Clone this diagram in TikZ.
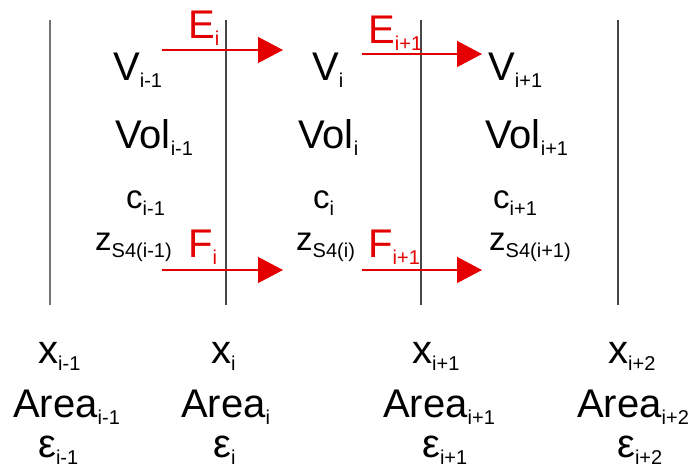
\documentclass[tikz,border=0pt]{standalone}
\usepackage{fontspec}
\setmainfont{Liberation Sans}
\usetikzlibrary{arrows.meta}
\definecolor{arrred}{RGB}{228,0,0}
\definecolor{linegray}{RGB}{70,70,70}
\newcommand{\mysub}[1]{\raisebox{-7pt}{\fontsize{20}{20}\selectfont #1}}
\begin{document}
\begin{tikzpicture}[x=1pt,y=-1pt,
  big/.style={anchor=base west,inner sep=0pt,font=\fontsize{40}{48}\selectfont},
  mid/.style={anchor=base west,inner sep=0pt,font=\fontsize{33}{38}\selectfont},
  redlab/.style={big,text=arrred},
  flux/.style={draw=arrred,line width=1.3pt,-{Triangle[length=25pt,width=26pt]}},
  wall/.style={draw=linegray,line width=1.3pt}]
\useasboundingbox (0,0) rectangle (690,471);
% walls
\coordinate (w1t) at (50,20);  \coordinate (w1b) at (50,305);
\coordinate (w2t) at (226,20); \coordinate (w2b) at (226,305);
\coordinate (w3t) at (421,20); \coordinate (w3b) at (421,305);
\coordinate (w4t) at (618,20); \coordinate (w4b) at (618,305);
\draw[wall,draw=black!55] (w1t) -- (w1b);
\draw[wall] (w2t) -- (w2b);
\draw[wall] (w3t) -- (w3b);
\draw[wall] (w4t) -- (w4b);
% flux arrows
\coordinate (e1s) at (162,50); \coordinate (e1t) at (283,50);
\coordinate (e2s) at (362,54); \coordinate (e2t) at (482,54);
\coordinate (f1s) at (162,270); \coordinate (f1t) at (283,270);
\coordinate (f2s) at (362,270); \coordinate (f2t) at (482,270);
\draw[flux] (e1s) -- (e1t);
\draw[flux] (e2s) -- (e2t);
\draw[flux] (f1s) -- (f1t);
\draw[flux] (f2s) -- (f2t);
% red labels
\node[redlab] (E1) at (188,38) {E\mysub{i}};
\node[redlab] (E2) at (368,43) {E\mysub{i+1}};
\node[redlab] (F1) at (188,257) {F\mysub{i}};
\node[redlab] (F2) at (368,257) {F\mysub{i+1}};
% cell contents
\node[big] (V0) at (113,80) {V\mysub{i-1}};
\node[big] (V1) at (312,80) {V\mysub{i}};
\node[big] (V2) at (488,80) {V\mysub{i+1}};
\node[big] (Vol0) at (115,148) {Vol\mysub{i-1}};
\node[big] (Vol1) at (298,148) {Vol\mysub{i}};
\node[big] (Vol2) at (485,148) {Vol\mysub{i+1}};
\node[mid] (c0) at (126,208) {c\mysub{i-1}};
\node[mid] (c1) at (313,208) {c\mysub{i}};
\node[mid] (c2) at (493,208) {c\mysub{i+1}};
\node[mid] (z0) at (95,250) {z\mysub{S4(i-1)}};
\node[mid] (z1) at (296,250) {z\mysub{S4(i)}};
\node[mid] (z2) at (489,250) {z\mysub{S4(i+1)}};
% boundary quantities
\node[big] (x0) at (38,363) {x\mysub{i-1}};
\node[big] (x1) at (211,363) {x\mysub{i}};
\node[big] (x2) at (412,363) {x\mysub{i+1}};
\node[big] (x3) at (608,363) {x\mysub{i+2}};
\node[big] (A0) at (13,417) {Area\mysub{i-1}};
\node[big] (A1) at (181,417) {Area\mysub{i}};
\node[big] (A2) at (383,417) {Area\mysub{i+1}};
\node[big] (A3) at (577,417) {Area\mysub{i+2}};
\node[big] (e0) at (38,457) {ε\mysub{i-1}};
\node[big] (e1) at (213,457) {ε\mysub{i}};
\node[big] (e2) at (422,457) {ε\mysub{i+1}};
\node[big] (e3) at (617,457) {ε\mysub{i+2}};
\end{tikzpicture}
\end{document}
